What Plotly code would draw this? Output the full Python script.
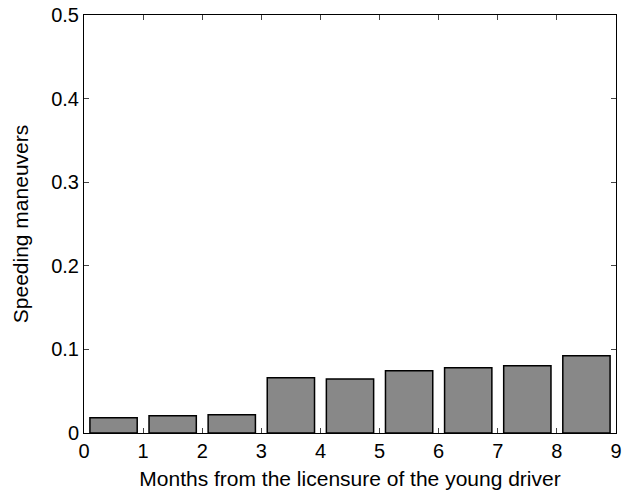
import plotly.graph_objects as go

months = [0.5, 1.5, 2.5, 3.5, 4.5, 5.5, 6.5, 7.5, 8.5]
speeding = [0.0183, 0.0207, 0.0219, 0.066, 0.0645, 0.0744, 0.078, 0.0804, 0.0924]
x_ticks = [0, 1, 2, 3, 4, 5, 6, 7, 8, 9]
y_ticks = [0, 0.1, 0.2, 0.3, 0.4, 0.5]
y_tick_labels = ["0", "0.1", "0.2", "0.3", "0.4", "0.5"]

fig = go.Figure(go.Bar(
    x=months, y=speeding, width=0.8,
    marker=dict(color="#888888", line=dict(color="black", width=1.5)),
))

fig.update_layout(
    width=629, height=498,
    margin=dict(l=84, r=13, t=15, b=65),
    plot_bgcolor="white", paper_bgcolor="white",
    font=dict(family="Liberation Sans, Arial, sans-serif", color="black", size=20),
    showlegend=False,
)
fig.update_xaxes(
    range=[0, 9], tickvals=x_ticks, ticks="inside", ticklen=5, tickwidth=1,
    showline=True, linecolor="black", linewidth=1, mirror="ticks",
    showgrid=False, zeroline=False, automargin=False, ticklabeloverflow="allow",
    title=dict(text="Months from the licensure of the young driver", font=dict(size=21), standoff=10),
    tickfont=dict(size=20),
)
fig.update_yaxes(
    range=[0, 0.5], tickvals=y_ticks, ticktext=y_tick_labels, ticks="inside", ticklen=5, tickwidth=1,
    showline=True, linecolor="black", linewidth=1, mirror="ticks",
    showgrid=False, zeroline=False, automargin=False, ticklabeloverflow="allow",
    title=dict(text="Speeding maneuvers", font=dict(size=21), standoff=16),
    tickfont=dict(size=20),
)

# remove the browser's default 8px body margin so the figure fills the window
fig.write_html(
    "out.html",
    config={"displayModeBar": False},
    post_script="document.body.style.margin='0';",
)
